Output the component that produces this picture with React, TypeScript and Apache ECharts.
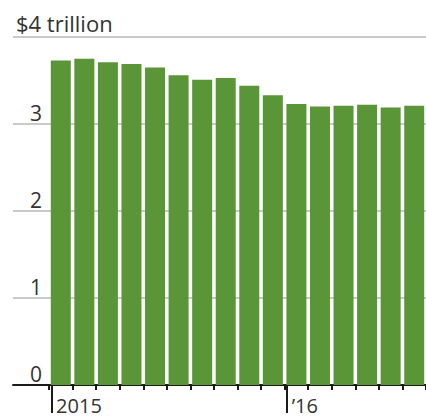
import React, { useEffect, useRef } from "react";
import * as echarts from "echarts";

const months = [
  "Mar 2015", "Apr 2015", "May 2015", "Jun 2015", "Jul 2015", "Aug 2015",
  "Sep 2015", "Oct 2015", "Nov 2015", "Dec 2015", "Jan 2016", "Feb 2016",
  "Mar 2016", "Apr 2016", "May 2016", "Jun 2016",
];
const reserves = [3.73, 3.75, 3.71, 3.69, 3.65, 3.56, 3.51, 3.53, 3.44, 3.33, 3.23, 3.2, 3.21, 3.22, 3.19, 3.21];
const yTicks = [0, 1, 2, 3, 4];
const yearLabels = ["2015", "\u201916"];
const yearStartIndex = [0, 10];

export default function App() {
  const ref = useRef<HTMLDivElement>(null);
  useEffect(() => {
    if (!ref.current) return;
    const chart = echarts.init(ref.current, null, { renderer: "svg" });
    const font = "'Open Sans', 'Noto Sans', sans-serif";
    const top = 37;
    const bottom = 32;
    chart.setOption({
      animation: false,
      title: {
        text: "$4 trillion",
        left: 11,
        top: 7,
        textStyle: { fontFamily: font, fontSize: 22, fontWeight: "normal", color: "#333" },
      },
      grid: [
        { left: 13, right: 0, top, bottom },
        { left: 49, width: 24 * months.length, top, bottom },
      ],
      xAxis: [
        {
          type: "value",
          gridIndex: 0,
          position: "bottom",
          min: 0,
          max: 1,
          axisLine: { show: true, onZero: false, lineStyle: { color: "#1a1a1a", width: 2 } },
          axisTick: { show: false },
          axisLabel: { show: false },
          splitLine: { show: false },
        },
        {
          type: "category",
          gridIndex: 1,
          position: "bottom",
          data: months,
          axisLine: { show: false },
          axisTick: { show: true, interval: 0, length: 5, lineStyle: { color: "#1a1a1a", width: 2 } },
          axisLabel: { show: false },
        },
        {
          type: "value",
          gridIndex: 1,
          position: "bottom",
          offset: 0,
          min: 0,
          max: months.length,
          axisLine: { show: false },
          splitLine: { show: false },
          axisTick: {
            show: true,
            length: 28,
            customValues: yearStartIndex.map((i) => i + 0.1),
            lineStyle: { color: "#1a1a1a", width: 2 },
          },
          axisLabel: {
            show: true,
            customValues: yearStartIndex.map((i) => i + 0.3),
            formatter: (v: number) => {
              let idx = 0;
              yearStartIndex.forEach((s, k) => { if (v >= s) idx = k; });
              return yearLabels[idx];
            },
            align: "left",
            margin: 9,
            lineHeight: 22,
            fontFamily: font,
            fontSize: 20,
            color: "#333",
          },
        },
      ],
      yAxis: [
        {
          type: "value",
          gridIndex: 0,
          min: yTicks[0],
          max: yTicks[yTicks.length - 1],
          interval: 1,
          axisLine: { show: false },
          axisTick: { show: false },
          splitLine: { show: true, lineStyle: { color: "#b8b8b8", width: 1.5 } },
          axisLabel: {
            formatter: (v: number) => (v === 4 ? "" : String(v)),
            align: "right",
            verticalAlign: "bottom",
            margin: -29,
            padding: [0, 0, 1, 0],
            fontFamily: font,
            fontSize: 21,
            color: "#333",
          },
        },
        {
          type: "value",
          gridIndex: 1,
          min: 0,
          max: 4,
          show: false,
          splitLine: { show: false },
        },
      ],
      series: [
        {
          type: "bar",
          xAxisIndex: 1,
          yAxisIndex: 1,
          data: reserves,
          barWidth: 20,
          itemStyle: { color: "#5a9638" },
          z: 1,
        },
      ],
    });
    return () => chart.dispose();
  }, []);
  return (
    <div style={{ position: "absolute", left: 0, top: 0, width: 426, height: 417, overflow: "hidden", background: "#fff" }}>
      <div ref={ref} style={{ width: 426, height: 417 }} />
    </div>
  );
}
